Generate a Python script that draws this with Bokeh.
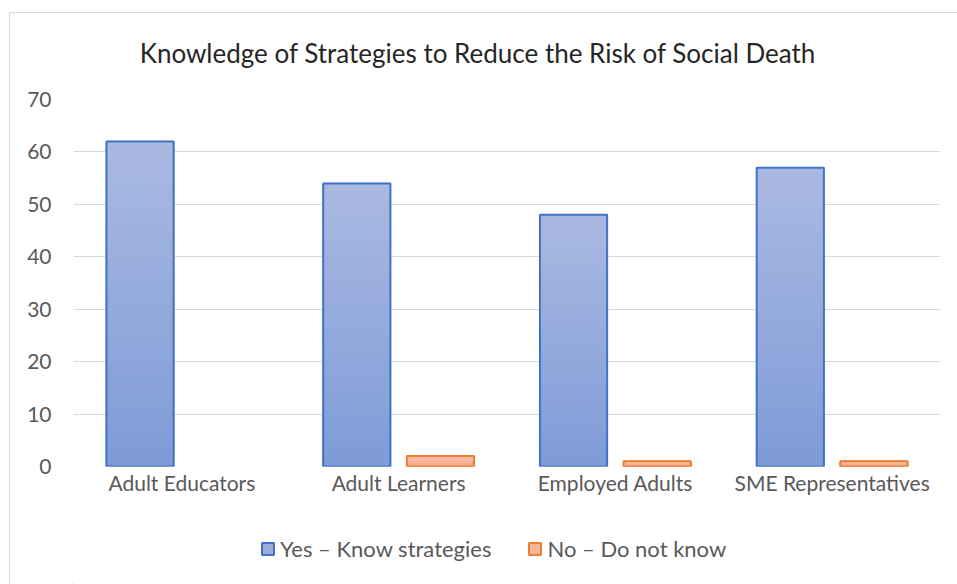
from bokeh.plotting import figure
from bokeh.layouts import column
from bokeh.models import (FactorRange, Legend, LegendItem, ColumnDataSource,
                          Range1d, FixedTicker, Label)
from bokeh.transform import dodge
from bokeh.embed import file_html
from bokeh.resources import INLINE

# ---------------- data ----------------
categories = ["Adult Educators", "Adult Learners", "Employed Adults", "SME Representatives"]
yes_know = [62, 54, 48, 57]
no_know = [0, 2, 1, 1]
series_names = ["Yes – Know strategies", "No – Do not know"]
title_text = "Knowledge of Strategies to Reduce the Risk of Social Death"
y_ticks = [0, 10, 20, 30, 40, 50, 60, 70]

# ---------------- style ----------------
FONT = "Lato"
BLUE_LINE = "#4472C4"
BLUE_TOP = (170, 185, 225)
BLUE_BOT = (126, 155, 216)
ORANGE_LINE = "#ED7D31"
ORANGE_TOP = (250, 190, 165)
ORANGE_BOT = (244, 165, 128)
BAR_W = 0.31
OFFSET = 0.193
N_SLICES = 30


def hexcol(c):
    return "#%02x%02x%02x" % tuple(int(round(v)) for v in c)


def mix(a, b, t):
    return tuple(a[i] + (b[i] - a[i]) * t for i in range(3))


def strip(height):
    f = figure(width=947, height=height, output_backend="svg", toolbar_location=None,
               x_axis_location=None, y_axis_location=None,
               x_range=Range1d(0, 1), y_range=Range1d(0, 1),
               min_border_left=63, min_border_right=17, min_border_top=0, min_border_bottom=0)
    f.outline_line_color = None
    f.grid.grid_line_color = None
    f.background_fill_color = "white"
    f.border_fill_color = "white"
    return f


# ---------------- title strip ----------------
tf = strip(70)
tf.add_layout(Label(x=404.5, y=31, x_units="screen", y_units="screen", text=title_text,
                    text_align="center", text_baseline="middle",
                    text_font=FONT, text_font_size="26px", text_color="#262626"))

# ---------------- main chart ----------------
p = figure(x_range=FactorRange(*categories), y_range=Range1d(0, 70),
           width=947, height=437, output_backend="svg", toolbar_location=None,
           min_border_left=63, min_border_right=17, min_border_top=16,
           min_border_bottom=54)
p.outline_line_color = None
p.background_fill_color = "white"
p.border_fill_color = "white"


def draw_series(vals, off, top, bot, line):
    cats = [c for c, v in zip(categories, vals) if v > 0]
    vs = [v for v in vals if v > 0]
    base = ColumnDataSource(dict(x=cats, top=vs))
    xs = dodge("x", off, range=p.x_range)
    sx, sb, st, sc = [], [], [], []
    for c, v in zip(cats, vs):
        for i in range(N_SLICES):
            sx.append(c)
            sb.append(v * i / N_SLICES)
            st.append(v * (i + 1) / N_SLICES)
            sc.append(hexcol(mix(bot, top, (i + 0.5) / N_SLICES)))
    ssrc = ColumnDataSource(dict(x=sx, bottom=sb, top=st, color=sc))
    p.vbar(x=dodge("x", off, range=p.x_range), bottom="bottom", top="top",
           width=BAR_W, source=ssrc, fill_color="color", line_color="color", line_width=1.5)
    p.vbar(x=xs, top="top", width=BAR_W, source=base, fill_alpha=0,
           line_color=line, line_width=2)


draw_series(yes_know, -OFFSET, BLUE_TOP, BLUE_BOT, BLUE_LINE)
draw_series(no_know, OFFSET, ORANGE_TOP, ORANGE_BOT, ORANGE_LINE)

p.yaxis.ticker = FixedTicker(ticks=y_ticks)
for ax in (p.xaxis, p.yaxis):
    ax.axis_line_color = None
    ax.major_tick_line_color = None
    ax.minor_tick_line_color = None
    ax.major_tick_out = 0
    ax.major_tick_in = 0
    ax.major_label_text_font = FONT
    ax.major_label_text_font_size = "21px"
    ax.major_label_text_color = "#595959"
p.yaxis.major_label_standoff = 22
p.xaxis.major_label_standoff = 3

p.xgrid.grid_line_color = None
p.ygrid.grid_line_color = "#D9D9D9"
p.ygrid.grid_line_width = 1

# ---------------- legend strip ----------------
lf = strip(64)
hidden = ColumnDataSource(dict(x=[-10], top=[-5]))
r_yes = lf.vbar(x="x", top="top", width=1, source=hidden,
                fill_color=hexcol(mix(BLUE_BOT, BLUE_TOP, 0.6)), line_color=BLUE_LINE, line_width=2)
r_no = lf.vbar(x="x", top="top", width=1, source=hidden,
               fill_color=hexcol(mix(ORANGE_BOT, ORANGE_TOP, 0.6)), line_color=ORANGE_LINE, line_width=2)
legend = Legend(items=[LegendItem(label=series_names[0], renderers=[r_yes]),
                       LegendItem(label=series_names[1], renderers=[r_no])],
                orientation="horizontal", location=(187, 22),
                label_text_font=FONT, label_text_font_size="22px",
                label_text_color="#595959", glyph_width=15, glyph_height=15,
                spacing=36, label_standoff=5, border_line_color=None,
                background_fill_alpha=0, margin=0, padding=6)
lf.add_layout(legend)

layout = column(tf, p, lf, spacing=0,
                styles={"margin-left": "9px", "margin-top": "12px",
                        "border-left": "1px solid #D9D9D9",
                        "border-top": "1px solid #D9D9D9"})

open("out.html", "w").write(file_html(layout, INLINE))
